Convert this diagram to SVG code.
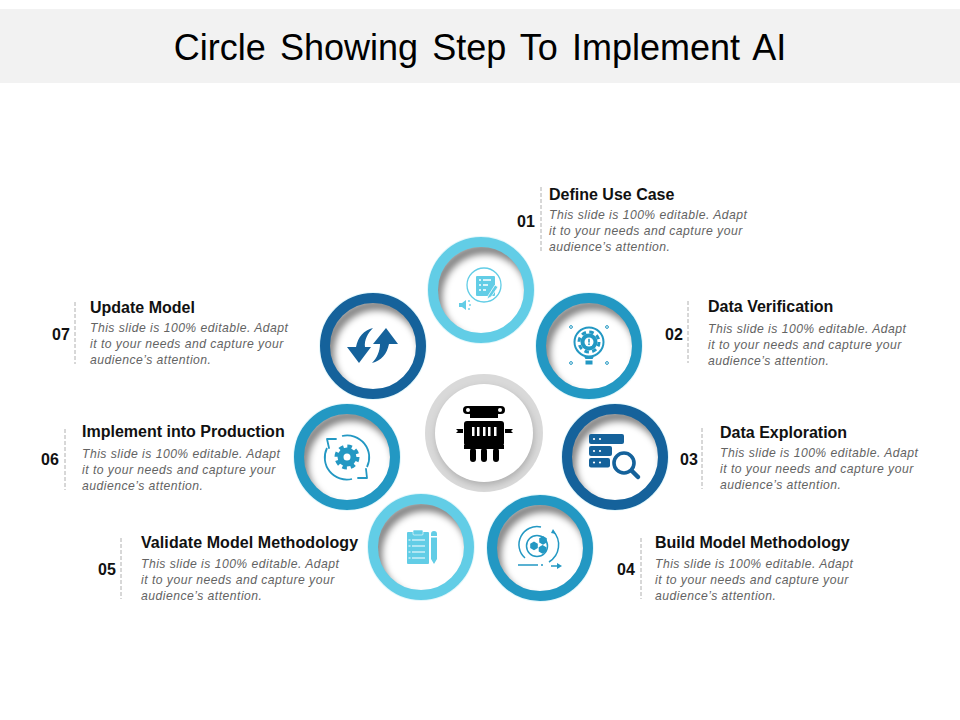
<svg xmlns="http://www.w3.org/2000/svg" width="960" height="720" viewBox="0 0 960 720">
<style>
text{font-family:"Liberation Sans",Arial,sans-serif}
.title{font-size:36px;fill:#000;word-spacing:4.2px}
.h{font-size:16px;font-weight:bold;fill:#111}
.n{font-size:16px;font-weight:bold;fill:#111}
.b{font-size:12.2px;font-style:italic;fill:#636363;letter-spacing:.47px}
.sep{stroke:#b0b0b0;stroke-width:1;stroke-dasharray:4 2;fill:none}
.l{fill:#62cde6}.lS{stroke:#62cde6;fill:none}
.m{fill:#2398c3}.mS{stroke:#2398c3;fill:none}
.d{fill:#15629b}.dS{stroke:#15629b;fill:none}
</style>
<defs>
<filter id="blur" x="-30%" y="-30%" width="160%" height="160%"><feGaussianBlur stdDeviation="3.500"/></filter>
<clipPath id="inner"><circle cx="0" cy="0" r="44"/></clipPath>
<g id="ring">
<circle r="54" fill="#e3f7fb" stroke="none"/>
<circle r="44" fill="#fff" stroke="none"/>
<g clip-path="url(#inner)"><circle cx="4" cy="7" r="48" fill="none" stroke="#000" stroke-opacity=".5" stroke-width="10" filter="url(#blur)"/></g>
<circle r="48" fill="none" stroke-width="10"/>
</g>
</defs>
<rect x="0" y="9" width="960" height="74" fill="#f2f2f2"/>
<text class="title" x="480" y="60" text-anchor="middle">Circle Showing Step To Implement AI</text>

<g id="connectors">
<path class="sep" d="M541 187V251M688 301V363M702 428V489M641 538V599M121 538V599M65 429V490M75 302V364"/>
</g>

<g id="hub">
<circle cx="484" cy="433" r="59" fill="#d9d9d9"/>
<circle cx="485" cy="436" r="49" fill="#000" fill-opacity=".2" filter="url(#blur)"/>
<circle cx="484" cy="433" r="49" fill="#fff"/>
<g fill="#000">
<rect x="463" y="406" width="42" height="8" rx="4"/>
<rect x="470" y="406" width="28" height="12"/>
<rect x="464" y="421" width="40" height="25" rx="3"/>
<rect x="464" y="445" width="40" height="4"/>
<rect x="470" y="448" width="6" height="14" rx="3"/><rect x="481" y="448" width="6" height="14" rx="3"/><rect x="493" y="448" width="6" height="14" rx="3"/>
<path d="M456 429h7v4h-7l2-2ZM505 429h8l-2 2 2 2h-8Z"/>
</g>
<circle cx="468" cy="410" r="2" fill="#fff"/><circle cx="500" cy="410" r="2" fill="#fff"/>
<g fill="#fff"><rect x="472" y="427" width="2.500" height="9"/><rect x="477" y="427" width="2.500" height="9"/><rect x="483" y="427" width="2.500" height="9"/><rect x="488" y="427" width="2.500" height="9"/><rect x="494" y="427" width="2.500" height="9"/></g>
</g>

<g id="node-01">
<use href="#ring" x="481" y="290" stroke="#62cde6"/>
<circle class="lS" cx="484" cy="285" r="17" stroke-width="1.300"/>
<rect class="l" x="476" y="276" width="19" height="20" rx="1"/>
<g stroke="#fff" stroke-width="1.600"><path d="M479 280h2M483 280h8M479 285h2M483 285h5M479 290h2M483 290h3"/></g>
<path d="M488 296l7-11 3 2-7 10-4 2Z" class="l" stroke="#fff" stroke-width=".8"/>
<path class="l" d="M459 303h3l4-3v10l-4-3h-3Z"/>
<path class="lS" d="M469 300v2M470 304v2M469 308v2" stroke-width="1.300"/>
<text class="n" x="517" y="227">01</text>
<text class="h" x="549" y="200">Define Use Case</text>
<text class="b"><tspan x="549" y="219">This slide is 100% editable. Adapt</tspan><tspan x="549" y="235">it to your needs and capture your</tspan><tspan x="549" y="251">audience’s attention.</tspan></text>
</g>

<g id="node-02">
<use href="#ring" x="589" y="346" stroke="#2398c3"/>
<circle class="mS" cx="589" cy="342" r="14.500" stroke-width="2"/>
<circle class="mS" cx="589" cy="342" r="10" stroke-width="3" stroke-dasharray="4.500 3.350"/>
<circle class="m" cx="589" cy="342" r="8.500"/>
<circle cx="589" cy="342" r="4.500" fill="#fff"/>
<rect x="588.200" y="338.800" width="1.600" height="3.800" class="m"/><rect x="588.200" y="343.400" width="1.600" height="1.600" class="m"/>
<path class="m" d="M584 356.500h10l-1.500 2.500h-7ZM585.500 360.500h7v4h-7Z"/>
<g class="mS" stroke-width="1"><circle cx="571" cy="327" r="1.400"/><circle cx="607" cy="327" r="1.400"/><circle cx="571" cy="363" r="1.400"/><circle cx="607" cy="363" r="1.400"/></g>
<text class="n" x="665" y="340">02</text>
<text class="h" x="708" y="312">Data Verification</text>
<text class="b"><tspan x="708" y="333">This slide is 100% editable. Adapt</tspan><tspan x="708" y="349">it to your needs and capture your</tspan><tspan x="708" y="365">audience’s attention.</tspan></text>
</g>

<g id="node-03">
<use href="#ring" x="615" y="457" stroke="#15629b"/>
<g class="d">
<rect x="589" y="434" width="35" height="10" rx="2"/><rect x="589" y="446" width="23" height="10" rx="2"/><rect x="589" y="458" width="21" height="9.500" rx="2"/>
</g>
<g fill="#fff"><circle cx="594" cy="439" r="1.100"/><circle cx="600" cy="439" r="1.100"/><circle cx="594" cy="451" r="1.100"/><circle cx="600" cy="451" r="1.100"/><circle cx="594" cy="462.500" r="1.100"/><circle cx="600" cy="462.500" r="1.100"/></g>
<circle cx="624" cy="463" r="10" class="dS" style="fill:#fff" stroke-width="3.600"/>
<path class="dS" d="M632 471l6 6" stroke-width="4.500" stroke-linecap="round"/>
<text class="n" x="680" y="465">03</text>
<text class="h" x="720" y="438">Data Exploration</text>
<text class="b"><tspan x="720" y="457">This slide is 100% editable. Adapt</tspan><tspan x="720" y="473">it to your needs and capture your</tspan><tspan x="720" y="489">audience’s attention.</tspan></text>
</g>

<g id="node-04">
<use href="#ring" x="540" y="548" stroke="#2398c3"/>
<circle class="mS" cx="537" cy="546" r="10.500" stroke-width="1.500"/>
<g class="m"><path d="M534 541.500l3.800 2.200v4.400l-3.800 2.200-3.800-2.200v-4.400Z"/><path d="M543 536l3.800 2.200v4.400l-3.800 2.200-3.800-2.200v-4.400Z"/><path d="M542.500 545l3.800 2.200v4.400l-3.800 2.200-3.800-2.200v-4.400Z"/></g>
<path class="mS" d="M541 527A18 18 0 0 0 525 558M553 531A20 20 0 0 1 549 562" stroke-width="1.500"/>
<path class="m" d="M553 529l3 5-5-1Z"/>
<path class="mS" d="M518 565h20M541 565h2M551 566h9" stroke-width="1.500"/>
<path class="m" d="M557 563l5 3-5 3Z"/>
<text class="n" x="617" y="575">04</text>
<text class="h" x="655" y="548">Build Model Methodology</text>
<text class="b"><tspan x="655" y="568">This slide is 100% editable. Adapt</tspan><tspan x="655" y="584">it to your needs and capture your</tspan><tspan x="655" y="600">audience’s attention.</tspan></text>
</g>

<g id="node-05">
<use href="#ring" x="421" y="547" stroke="#62cde6"/>
<rect class="l" x="407" y="532" width="22" height="32" rx="1"/>
<rect class="l" x="413" y="530" width="10" height="5" rx="1" stroke="#fff" stroke-width=".6"/>
<path d="M412 540h13M412 546h13M412 552h13M412 558h13" stroke="#fff" stroke-width="1.200"/>
<path d="M408.500 540h2M408.500 546h2M408.500 552h2M408.500 558h2" stroke="#fff" stroke-width="1.200"/>
<path class="l" d="M431 534a3 3 0 0 1 6 0v2h-6ZM431 537.500h6V559l-3 5-3-5Z"/>
<text class="n" x="98" y="575">05</text>
<text class="h" x="141" y="548" style="letter-spacing:.08px">Validate Model Methodology</text>
<text class="b"><tspan x="141" y="568">This slide is 100% editable. Adapt</tspan><tspan x="141" y="584">it to your needs and capture your</tspan><tspan x="141" y="600">audience’s attention.</tspan></text>
</g>

<g id="node-06">
<use href="#ring" x="347" y="457" stroke="#2398c3"/>
<circle class="mS" cx="347" cy="457" r="6.500" stroke-width="6"/>
<circle class="mS" cx="347" cy="457" r="10.500" stroke-width="4" stroke-dasharray="4.500 3.750"/>
<path class="mS" d="M342 436A22 22 0 0 1 367 467M352 479A22 22 0 0 1 327 448" stroke-width="1.800"/>
<path class="mS" d="M336 439h-9l2 9M358 478h9l-1-9" stroke-width="1.800" stroke-linecap="round" stroke-linejoin="round"/>
<text class="n" x="41" y="465">06</text>
<text class="h" x="82" y="437">Implement into Production</text>
<text class="b"><tspan x="82" y="458">This slide is 100% editable. Adapt</tspan><tspan x="82" y="474">it to your needs and capture your</tspan><tspan x="82" y="490">audience’s attention.</tspan></text>
</g>

<g id="node-07">
<use href="#ring" x="373" y="346" stroke="#15629b"/>
<g class="d">
<path d="M347 347h9C358 337 364 330 373 328C368 333 364 340 365 347h6L359 363Z"/>
<path d="M386 328L398 344h-9C387 354 381 361 372 363C377 358 380 351 380 344h-7Z"/>
</g>
<text class="n" x="52" y="340">07</text>
<text class="h" x="90" y="313">Update Model</text>
<text class="b"><tspan x="90" y="332">This slide is 100% editable. Adapt</tspan><tspan x="90" y="348">it to your needs and capture your</tspan><tspan x="90" y="364">audience’s attention.</tspan></text>
</g>
</svg>
